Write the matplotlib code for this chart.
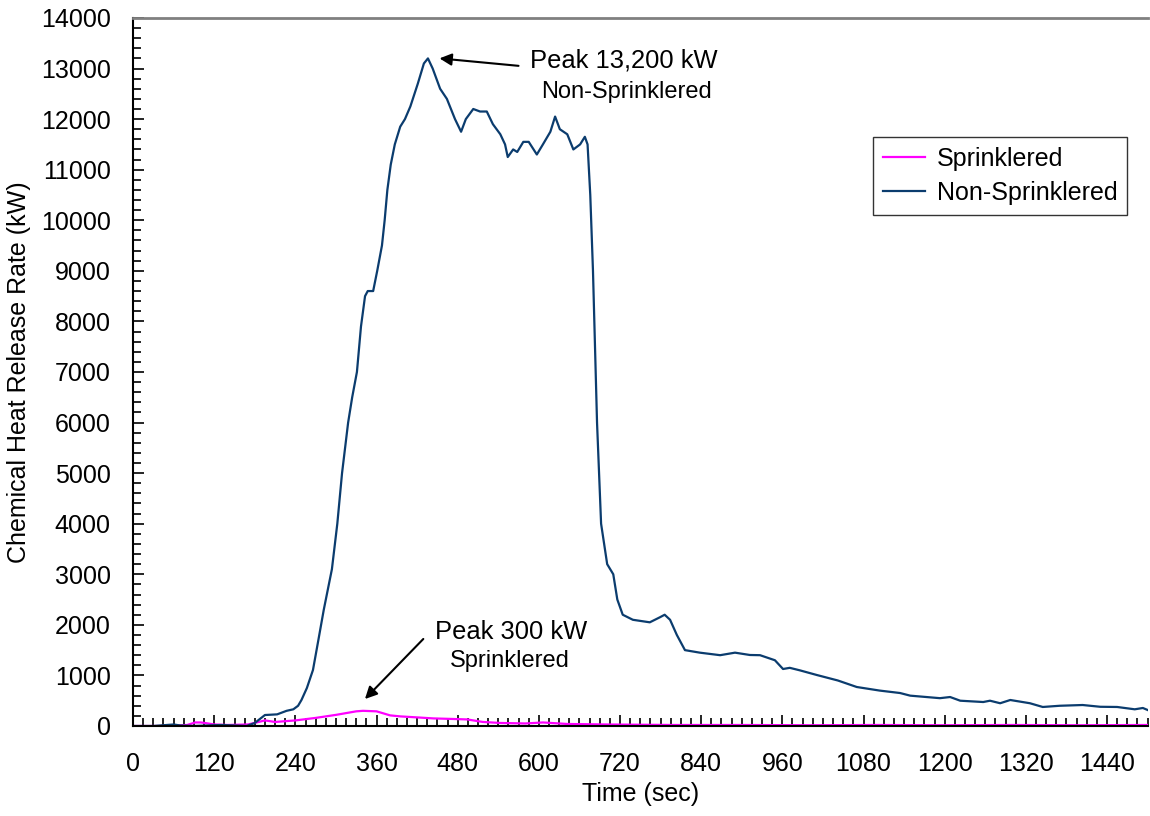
import matplotlib
matplotlib.use("Agg")
from matplotlib import pyplot as plt
from matplotlib.ticker import MultipleLocator

plt.rcParams['font.family'] = ['Liberation Sans', 'DejaVu Sans']

# Non-sprinklered test (time in s, chemical HRR in kW)
non_t = [0, 30, 50, 60, 70, 90, 110, 130, 150, 168, 180, 195, 213, 227, 237, 244, 249, 257, 266,
         274, 282, 288, 294, 302, 309, 318, 324, 331, 337, 343, 347, 355, 361, 368, 372, 376, 381,
         387, 395, 402, 410, 421, 430, 436, 443, 454, 464, 476, 485, 492, 503, 513, 523, 532, 543,
         550, 554, 562, 568, 577, 585, 597, 606, 617, 624, 631, 642, 651, 661, 668, 672, 676, 680,
         686, 692, 701, 710, 716, 724, 739, 764, 779, 786, 794, 804, 816, 838, 868, 890, 912, 927,
         949, 961, 971, 986, 1011, 1042, 1070, 1104, 1134, 1149, 1193, 1208, 1223, 1257, 1267,
         1282, 1297, 1326, 1345, 1370, 1404, 1430, 1455, 1481, 1493, 1503]
non_hrr = [0, 0, 20, 30, 10, 0, 10, 20, 10, 0, 60, 217, 230, 300, 330, 400, 514, 751, 1107,
           1700, 2300, 2700, 3100, 4000, 5000, 6000, 6500, 7000, 7900, 8500, 8600, 8600, 9000,
           9500, 10000, 10600, 11100, 11500, 11850, 12000, 12250, 12700, 13100, 13200, 13000,
           12600, 12400, 12000, 11750, 12000, 12200, 12150, 12150, 11900, 11700, 11500, 11250,
           11400, 11350, 11550, 11550, 11300, 11500, 11750, 12050, 11800, 11700, 11400, 11500,
           11650, 11500, 10500, 9000, 6000, 4000, 3200, 3000, 2500, 2200, 2100, 2050, 2150, 2200,
           2100, 1800, 1500, 1450, 1400, 1450, 1404, 1400, 1300, 1127, 1150, 1100, 1008, 900, 771,
           700, 652, 600, 550, 573, 500, 474, 500, 450, 514, 450, 376, 400, 415, 380, 376, 330,
           356, 300]

# Sprinklered test
spr_t = [0, 40, 60, 80, 92, 100, 106, 120, 140, 170, 195, 210, 240, 270, 300, 330, 340, 360,
         380, 395, 420, 444, 470, 494, 517, 543, 580, 606, 642, 700, 800, 900, 1000, 1100, 1200,
         1300, 1400, 1503]
spr_hrr = [0, 0, 10, 20, 70, 70, 60, 30, 20, 30, 110, 80, 110, 160, 220, 290, 300, 290, 210,
           190, 170, 150, 140, 130, 80, 60, 50, 70, 40, 30, 20, 20, 15, 20, 15, 20, 15, 20]

fig = plt.figure(figsize=(11.5, 8.16), dpi=100)
ax = fig.add_axes([0.1157, 0.1103, 0.8822, 0.8677])

ax.plot(spr_t, spr_hrr, color="#FF00FF", lw=1.6, label="Sprinklered")
ax.plot(non_t, non_hrr, color="#0B3C6E", lw=1.6, label="Non-Sprinklered")

ax.set_xlim(0, 1500)
ax.set_ylim(0, 14000)
ax.xaxis.set_major_locator(MultipleLocator(120))
ax.xaxis.set_minor_locator(MultipleLocator(15))
ax.yaxis.set_major_locator(MultipleLocator(1000))
ax.yaxis.set_minor_locator(MultipleLocator(200))
ax.tick_params(axis='both', which='both', direction='in', labelsize=18, width=1.2)
ax.tick_params(axis='both', which='major', length=8)
ax.tick_params(axis='both', which='minor', length=6)
ax.tick_params(axis='x', which='major', pad=19)
ax.tick_params(axis='y', which='major', pad=16)

ax.spines['right'].set_visible(False)
ax.spines['top'].set_color("#808080")
ax.spines['top'].set_linewidth(2)
ax.spines['left'].set_linewidth(1.5)
ax.spines['bottom'].set_linewidth(1.5)

ax.set_xlabel("Time (sec)", fontsize=18, labelpad=4)
ax.set_ylabel("Chemical Heat Release Rate (kW)", fontsize=18, labelpad=7)

leg = ax.legend(loc="upper right", bbox_to_anchor=(0.98, 0.832), fontsize=18,
                frameon=True, fancybox=False, handlelength=1.7, handletextpad=0.45,
                borderpad=0.4, labelspacing=0.4, borderaxespad=0)
leg.get_frame().set_edgecolor("black")
leg.get_frame().set_linewidth(1.0)

ax.annotate("", xy=(449, 13206), xytext=(574, 13048),
            arrowprops=dict(arrowstyle="-|>", color="black", lw=1.5, mutation_scale=18))
ax.text(726, 13167, "Peak 13,200 kW", fontsize=18.4, ha="center", va="center")
ax.text(729, 12534, "Non-Sprinklered", fontsize=17, ha="center", va="center")

ax.annotate("", xy=(340, 494), xytext=(432, 1760),
            arrowprops=dict(arrowstyle="-|>", color="black", lw=1.5, mutation_scale=18))
ax.text(559, 1858, "Peak 300 kW", fontsize=18.4, ha="center", va="center")
ax.text(557, 1285, "Sprinklered", fontsize=17, ha="center", va="center")

fig.savefig("out.png", dpi=100)
